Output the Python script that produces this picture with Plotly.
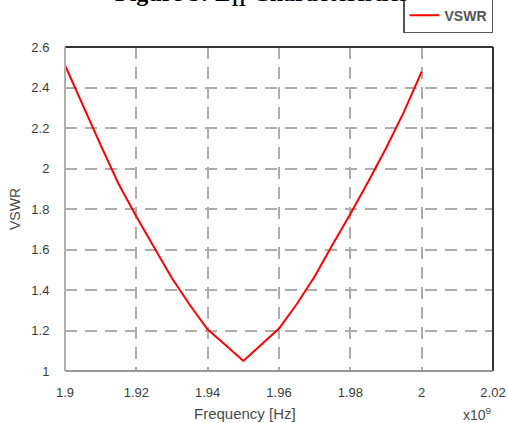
import plotly.graph_objects as go

freq = [1.900, 1.905, 1.910, 1.915, 1.920, 1.925, 1.930, 1.935, 1.940, 1.945, 1.950,
        1.955, 1.960, 1.965, 1.970, 1.975, 1.980, 1.985, 1.990, 1.995, 2.000]
vswr = [2.51, 2.31, 2.115, 1.925, 1.763, 1.61, 1.458, 1.326, 1.205, 1.128, 1.05,
        1.13, 1.21, 1.331, 1.467, 1.624, 1.775, 1.935, 2.10, 2.278, 2.478]

x_ticks = [1.90, 1.92, 1.94, 1.96, 1.98, 2.00, 2.02]
x_labels = ["1.9", "1.92", "1.94", "1.96", "1.98", "2", "2.02"]
y_ticks = [1.0, 1.2, 1.4, 1.6, 1.8, 2.0, 2.2, 2.4, 2.6]
y_labels = ["1", "1.2", "1.4", "1.6", "1.8", "2", "2.2", "2.4", "2.6"]

FONT = "Arial, Liberation Sans, sans-serif"
tick_font = dict(family=FONT, size=13, color="#3c3c3c")
label_font = dict(family=FONT, size=14, color="#4a4a4a")

fig = go.Figure()
fig.add_trace(go.Scatter(x=freq, y=vswr, mode="lines", name="<b>VSWR</b>",
                         line=dict(color="#ff0000", width=2)))

fig.update_layout(
    width=507, height=423,
    margin=dict(l=65, r=14, t=47, b=52, autoexpand=False),
    paper_bgcolor="white", plot_bgcolor="white",
    showlegend=True,
    legend=dict(x=1.0, xanchor="right", y=1.043, yanchor="bottom", yref="paper",
                bordercolor="#555555", borderwidth=1.5, bgcolor="white",
                font=dict(family=FONT, size=14, color="#555555"),
                itemwidth=30, tracegroupgap=0, indentation=0),
    xaxis=dict(range=[1.9, 2.02], tickvals=x_ticks, ticktext=x_labels,
               showgrid=True, gridcolor="#adadad", griddash="12px,8px", gridwidth=1.5,
               zeroline=False, showline=False,
               ticks="outside", ticklen=9, tickcolor="rgba(0,0,0,0)",
               tickfont=tick_font),
    yaxis=dict(range=[1.0, 2.6], tickvals=y_ticks, ticktext=y_labels,
               showgrid=True, gridcolor="#adadad", griddash="12px,8px", gridwidth=1.5,
               zeroline=False, showline=False,
               ticks="outside", ticklen=12, tickcolor="rgba(0,0,0,0)",
               tickfont=tick_font,
               title=dict(text="VSWR", font=label_font, standoff=7)),
)

# plot frame: dark top/right, grey left/bottom
fig.add_shape(type="line", xref="paper", yref="paper", x0=0, x1=1, y0=1, y1=1,
              line=dict(color="#333333", width=2))
fig.add_shape(type="line", xref="paper", yref="paper", x0=1, x1=1, y0=0, y1=1,
              line=dict(color="#333333", width=2))
fig.add_shape(type="line", xref="paper", yref="paper", x0=0, x1=0, y0=0, y1=1,
              line=dict(color="#b0b0b0", width=2))
fig.add_shape(type="line", xref="paper", yref="paper", x0=0, x1=1, y0=0, y1=0,
              line=dict(color="#999999", width=2))

# x-axis title and multiplier
fig.add_annotation(text="Frequency [Hz]", xref="paper", yref="paper", x=0.42, y=0,
                   yshift=-53, showarrow=False, xanchor="center", yanchor="bottom",
                   font=dict(family=FONT, size=15, color="#4a4a4a"))
fig.add_annotation(text="x10<sup>9</sup>", xref="paper", yref="paper", x=1.0, y=0,
                   yshift=-54, showarrow=False, xanchor="right", yanchor="bottom",
                   font=dict(family=FONT, size=14, color="#4a4a4a"))

# clipped figure caption at the very top
fig.add_annotation(text="<b>Figure 5: Z<sub>11</sub> Characteristics</b>", xref="paper", yref="paper",
                   x=0.46, y=1, yshift=35, showarrow=False, xanchor="center", yanchor="bottom",
                   font=dict(family="Liberation Serif, Times New Roman, serif", size=24, color="black"))

fig.write_html("out.html")
